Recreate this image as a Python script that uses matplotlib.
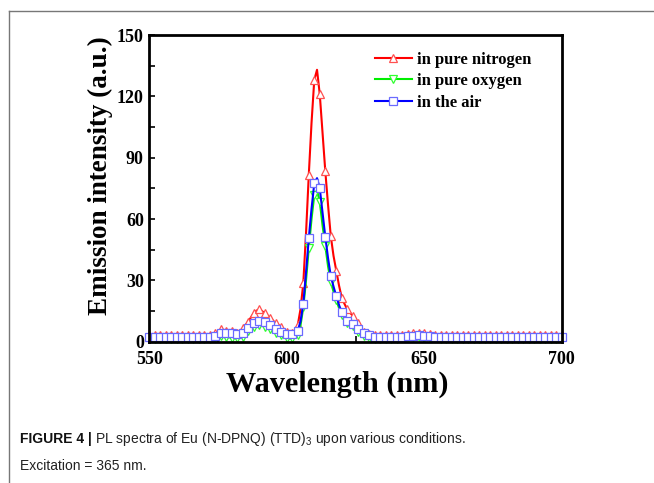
import numpy as np
import matplotlib
matplotlib.use("Agg")
import matplotlib.pyplot as plt
from matplotlib.lines import Line2D
from matplotlib.ticker import MultipleLocator

# wavelength grid (nm), 1 nm steps from 550 to 700
wavelength = np.arange(550, 701, 1)

# emission intensity
nitrogen = [
    3.1, 3.0, 3.1, 3.0, 3.1, 3.0, 3.1, 3.0, 3.1, 3.0,   # 550-559
    3.1, 3.0, 3.1, 3.0, 3.1, 3.0, 3.1, 3.0, 3.1, 3.0,   # 560-569
    3.1, 3.0, 3.2, 3.4, 4.1, 5.0, 6.0, 5.6, 5.4, 5.1,   # 570-579
    5.0, 4.7, 4.4, 5.3, 6.5, 8.2, 9.8, 12.0, 13.9, 15.2,  # 580-589
    15.8, 15.0, 13.9, 12.8, 11.7, 10.3, 9.0, 8.1, 7.3, 6.1,  # 590-599
    4.9, 4.5, 4.1, 5.8, 8.2, 16.0, 28.5, 53.0, 81.5, 107.0,  # 600-609
    128.0, 133.0, 121.0, 102.0, 83.6, 67.0, 51.7, 42.0, 34.7, 27.5,  # 610-619
    21.5, 18.5, 15.8, 14.2, 12.7, 10.8, 9.0, 6.8, 4.9, 4.2,  # 620-629
    3.7, 3.5, 3.4, 3.3, 3.3, 3.2, 3.3, 3.2, 3.3, 3.2,   # 630-639
    3.3, 3.4, 3.5, 3.7, 3.9, 4.1, 4.2, 4.3, 4.3, 4.2,   # 640-649
    4.1, 3.9, 3.7, 3.5, 3.4, 3.3, 3.2, 3.3, 3.2, 3.3,   # 650-659
    3.2, 3.3, 3.2, 3.3, 3.2, 3.3, 3.2, 3.3, 3.2, 3.3,   # 660-669
    3.2, 3.3, 3.2, 3.3, 3.2, 3.3, 3.2, 3.3, 3.2, 3.3,   # 670-679
    3.2, 3.3, 3.2, 3.3, 3.2, 3.3, 3.2, 3.3, 3.2, 3.3,   # 680-689
    3.2, 3.3, 3.2, 3.3, 3.2, 3.3, 3.4, 3.3, 3.4, 3.3,   # 690-699
    3.4,                                                # 700
]
oxygen = [
    1.4, 1.4, 1.5, 1.4, 1.4, 1.5, 1.4, 1.4, 1.5, 1.4,
    1.4, 1.5, 1.4, 1.4, 1.5, 1.4, 1.4, 1.5, 1.4, 1.4,
    1.5, 1.4, 1.5, 1.6, 1.8, 2.4, 2.8, 2.6, 2.4, 2.2,
    2.0, 1.8, 1.6, 2.0, 2.4, 3.8, 5.2, 6.3, 7.3, 7.9,
    8.2, 7.8, 7.3, 6.7, 6.0, 5.2, 4.4, 3.7, 3.1, 2.3,
    1.6, 1.6, 1.6, 2.3, 3.3, 8.0, 16.8, 30.0, 45.7, 60.0,
    71.7, 74.0, 68.5, 57.0, 47.0, 37.0, 29.3, 24.5, 20.4, 16.5,
    13.0, 11.0, 9.3, 8.5, 7.7, 6.3, 4.9, 3.8, 2.8, 2.4,
    2.0, 1.7, 1.5, 1.4, 1.5, 1.4, 1.5, 1.4, 1.5, 1.4,
    1.5, 1.6, 1.7, 1.8, 1.9, 2.0, 2.1, 2.1, 2.1, 2.0,
    2.0, 1.9, 1.8, 1.7, 1.6, 1.5, 1.4, 1.5, 1.4, 1.5,
    1.4, 1.5, 1.4, 1.5, 1.4, 1.5, 1.4, 1.5, 1.4, 1.5,
    1.4, 1.5, 1.4, 1.5, 1.4, 1.5, 1.4, 1.5, 1.4, 1.5,
    1.4, 1.5, 1.4, 1.5, 1.4, 1.5, 1.4, 1.5, 1.4, 1.5,
    1.4, 1.5, 1.4, 1.5, 1.4, 1.5, 1.5, 1.6, 1.5, 1.6,
    1.6,
]
air = [
    2.2, 2.2, 2.3, 2.2, 2.2, 2.3, 2.2, 2.2, 2.3, 2.2,
    2.2, 2.3, 2.2, 2.2, 2.3, 2.2, 2.2, 2.3, 2.2, 2.2,
    2.3, 2.2, 2.3, 2.4, 2.6, 3.5, 4.1, 4.3, 4.4, 4.2,
    4.1, 3.9, 3.7, 3.9, 4.1, 5.3, 6.5, 7.8, 9.0, 9.7,
    10.1, 9.8, 9.5, 8.8, 8.2, 7.2, 6.2, 5.5, 4.9, 4.3,
    3.7, 3.7, 3.7, 4.4, 5.4, 10.0, 18.4, 34.0, 50.5, 65.0,
    77.4, 80.0, 75.0, 63.0, 51.4, 41.0, 32.1, 27.0, 22.3, 18.0,
    14.3, 12.2, 10.3, 9.4, 8.6, 7.3, 6.0, 5.0, 4.1, 3.5,
    3.1, 2.7, 2.4, 2.3, 2.3, 2.2, 2.3, 2.2, 2.3, 2.2,
    2.3, 2.4, 2.5, 2.7, 2.8, 2.9, 3.0, 3.1, 3.1, 3.0,
    2.9, 2.8, 2.6, 2.5, 2.4, 2.3, 2.2, 2.3, 2.2, 2.3,
    2.2, 2.3, 2.2, 2.3, 2.2, 2.3, 2.2, 2.3, 2.2, 2.3,
    2.2, 2.3, 2.2, 2.3, 2.2, 2.3, 2.2, 2.3, 2.2, 2.3,
    2.2, 2.3, 2.2, 2.3, 2.2, 2.3, 2.2, 2.3, 2.2, 2.3,
    2.2, 2.3, 2.2, 2.3, 2.2, 2.3, 2.3, 2.4, 2.3, 2.4,
    2.4,
]

series_labels = ["in pure nitrogen", "in pure oxygen", "in the air"]
x_ticks = [550, 600, 650, 700]
y_ticks = [0, 30, 60, 90, 120, 150]

serif = "Liberation Serif"
sans = ["Liberation Sans Narrow", "Liberation Sans", "DejaVu Sans"]

fig = plt.figure(figsize=(6.54, 4.83), dpi=100)
ax = fig.add_axes([0.2283, 0.2925, 0.6306, 0.635])

styles = [
    dict(color="#ff0000", marker="^", mec="#ff5050"),
    dict(color="#00ee00", marker="v", mec="#30ff30"),
    dict(color="#0000ff", marker="s", mec="#6a6aff"),
]
for y, lab, st in zip([nitrogen, oxygen, air], series_labels, styles):
    ax.plot(wavelength, y, color=st["color"], lw=1.5, marker=st["marker"],
            markevery=2, ms=6.2, mfc="white", mec=st["mec"], mew=0.9,
            label=lab, clip_on=False)

ax.set_xlim(550, 700)
ax.set_ylim(0, 150)
ax.set_xticks(x_ticks)
ax.set_yticks(y_ticks)
ax.xaxis.set_minor_locator(MultipleLocator(25))
ax.yaxis.set_minor_locator(MultipleLocator(15))
ax.tick_params(which="both", direction="in", top=False, right=False,
               width=1.2, length=4)
ax.tick_params(axis="y", pad=4)
ax.tick_params(axis="x", pad=7)
for lbl in ax.get_xticklabels() + ax.get_yticklabels():
    lbl.set_fontfamily(serif)
    lbl.set_fontweight("bold")
    lbl.set_fontsize(13)
for sp in ax.spines.values():
    sp.set_linewidth(2)

ax.set_xlabel("Wavelength (nm)", fontfamily=serif, fontweight="bold",
              fontsize=21.8)
ax.xaxis.set_label_coords(0.455, -0.095)
ax.set_ylabel("Emission intensity (a.u.)", fontfamily=serif, fontweight="bold",
              fontsize=19.5)
ax.yaxis.set_label_coords(-0.087, 0.54)

leg = ax.legend(loc="upper left", bbox_to_anchor=(375 / 654, 1 - 52 / 483),
                bbox_transform=fig.transFigure, frameon=False,
                prop=dict(family=serif, weight="bold", size=12),
                handlelength=2.2, handletextpad=0.3, labelspacing=0.32,
                borderpad=0, borderaxespad=0, markerscale=1.0)

# page frame (left and top edges)
fig.add_artist(Line2D([9 / 654, 9 / 654], [0, 1 - 11 / 483], color="#777777", lw=1))
fig.add_artist(Line2D([9 / 654, 1], [1 - 11 / 483, 1 - 11 / 483], color="#777777", lw=1))

# caption
fig.canvas.draw()
renderer = fig.canvas.get_renderer()
t1 = fig.text(20 / 654, 1 - 443 / 483, "FIGURE 4 |", family=sans, weight="bold",
              fontsize=10, color="#111111", va="baseline")
bb = t1.get_window_extent(renderer)
fig.text(bb.x1 / 654 + 3 / 654, 1 - 443 / 483,
         r"PL spectra of Eu (N-DPNQ) (TTD)$\mathregular{_3}$ upon various conditions.",
         family=sans, fontsize=10, color="#222222", va="baseline")
fig.text(20 / 654, 1 - 470 / 483, "Excitation = 365 nm.", family=sans,
         fontsize=10, color="#222222", va="baseline")

fig.savefig("out.png", dpi=100)
